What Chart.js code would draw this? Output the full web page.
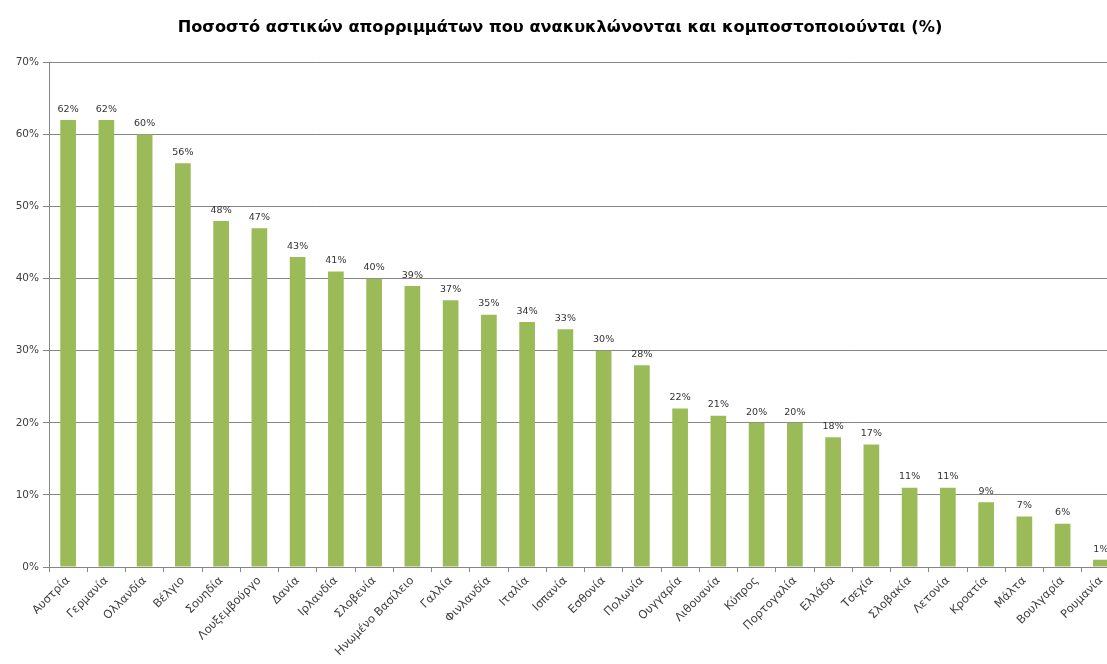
<!DOCTYPE html>
<html>
<head>
<meta charset="utf-8">
<script src="https://cdn.jsdelivr.net/npm/chart.js@4"></script>
<style>
  html, body { margin: 0; padding: 0; background: #fff; overflow: hidden; }
  #wrap { width: 1107px; height: 664px; overflow: hidden; }
</style>
</head>
<body>
<div id="wrap"><canvas id="chart" width="1120" height="664"></canvas></div>
<script>
const countries = ['Αυστρία', 'Γερμανία', 'Ολλανδία', 'Βέλγιο', 'Σουηδία', 'Λουξεμβούργο', 'Δανία',
  'Ιρλανδία', 'Σλοβενία', 'Ηνωμένο Βασίλειο', 'Γαλλία', 'Φινλανδία', 'Ιταλία', 'Ισπανία', 'Εσθονία',
  'Πολωνία', 'Ουγγαρία', 'Λιθουανία', 'Κύπρος', 'Πορτογαλία', 'Ελλάδα', 'Τσεχία', 'Σλοβακία',
  'Λετονία', 'Κροατία', 'Μάλτα', 'Βουλγαρία', 'Ρουμανία'];
const recycled = [62, 62, 60, 56, 48, 47, 43, 41, 40, 39, 37, 35, 34, 33, 30,
  28, 22, 21, 20, 20, 18, 17, 11, 11, 9, 7, 6, 1];
const yTicks = [0, 10, 20, 30, 40, 50, 60, 70];
const title = 'Ποσοστό αστικών απορριμμάτων που ανακυκλώνονται και κομποστοποιούνται (%)';

const font = '"DejaVu Sans", Verdana, sans-serif';

// labels above bars
const barLabels = {
  id: 'barLabels',
  afterDatasetsDraw(chart) {
    const ctx = chart.ctx;
    const meta = chart.getDatasetMeta(0);
    ctx.save();
    ctx.font = '9.5px ' + font;
    ctx.fillStyle = '#333';
    ctx.textAlign = 'center';
    ctx.textBaseline = 'bottom';
    meta.data.forEach((bar, i) => {
      ctx.fillText(recycled[i] + '%', bar.x, bar.y - 6);
    });
    ctx.restore();
  }
};

new Chart(document.getElementById('chart'), {
  type: 'bar',
  data: {
    labels: countries,
    datasets: [{
      data: recycled,
      backgroundColor: '#9bbb59',
      categoryPercentage: 1,
      barPercentage: 0.41
    }]
  },
  options: {
    responsive: false,
    animation: false,
    plugins: {
      legend: { display: false },
      tooltip: { enabled: false },
      title: {
        display: true,
        text: title,
        color: '#000',
        font: { family: font, size: 16.2, weight: 'bold' },
        padding: { top: 18, bottom: 25 }
      }
    },
    scales: {
      x: {
        grid: { display: true, drawOnChartArea: false, offset: true, tickLength: 5, color: '#868686' },
        border: { color: '#868686' },
        ticks: {
          minRotation: 45, maxRotation: 45, autoSkip: false,
          color: '#404040', font: { family: font, size: 11.5 }, padding: 2
        },
        afterFit(scale) { scale.height = 97; }
      },
      y: {
        min: 0, max: 70,
        afterBuildTicks(scale) { scale.ticks = yTicks.map(v => ({ value: v })); },
        grid: { color: '#868686', tickLength: 6 },
        border: { color: '#868686' },
        ticks: {
          color: '#404040', font: { family: font, size: 10.5 }, padding: 4,
          callback: v => v + '%'
        },
        afterFit(scale) { scale.width = 49; }
      }
    }
  },
  plugins: [barLabels]
});
</script>
</body>
</html>
